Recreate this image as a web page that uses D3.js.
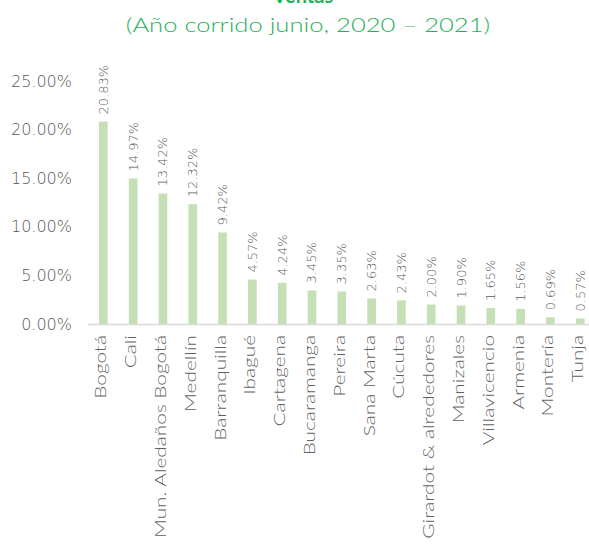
<!DOCTYPE html>
<html>
<head>
<meta charset="utf-8">
<script src="https://cdn.jsdelivr.net/npm/d3@7"></script>
<style>
  body { margin: 0; background: #fff; }
  svg { display: block; font-family: 'DejaVu Sans', sans-serif; }
  .wide { font-family: 'Lato', sans-serif; }
</style>
</head>
<body>
<svg id="chart" width="589" height="545"></svg>
<script>
// categories and shares
const cities = ['Bogotá', 'Cali', 'Mun. Aledaños Bogotá', 'Medellín', 'Barranquilla', 'Ibagué',
  'Cartagena', 'Bucaramanga', 'Pereira', 'Sana Marta', 'Cúcuta', 'Girardot & alrededores',
  'Manizales', 'Villavicencio', 'Armenia', 'Montería', 'Tunja'];
const shares = [20.83, 14.97, 13.42, 12.32, 9.42, 4.57, 4.24, 3.45, 3.35, 2.63, 2.43, 2.00,
  1.90, 1.65, 1.56, 0.69, 0.57];
const yTicks = [0, 5, 10, 15, 20, 25];

const svg = d3.select('#chart');
const green = '#1fb25a';
const grey = '#595959';

// title (first line is cut at the top in the original)
svg.append('text')
  .attr('class', 'wide')
  .attr('x', 303).attr('y', 3)
  .attr('text-anchor', 'middle')
  .attr('font-size', 20).attr('font-weight', 'bold')
  .attr('fill', green)
  .text('Ventas');
svg.append('text')
  .attr('class', 'wide')
  .attr('transform', 'translate(308,32) scale(1.28,1)')
  .attr('text-anchor', 'middle')
  .attr('font-size', 20).attr('font-weight', 300)
  .attr('fill', green)
  .text('(Año corrido junio,  2020 – 2021)');

const x = d3.scaleBand().domain(cities).range([88.6, 595])
  .paddingInner(0.71).paddingOuter(0.35);
const y = d3.scaleLinear().domain([0, 25]).range([324, 81]);

// y axis labels (no line, no ticks)
svg.append('g')
  .selectAll('text')
  .data(yTicks)
  .join('text')
  .attr('x', 72)
  .attr('y', d => y(d))
  .attr('dy', '0.35em')
  .attr('text-anchor', 'end')
  .attr('font-size', 16).attr('font-weight', 200)
  .attr('fill', grey)
  .text(d => d.toFixed(2) + '%');

// bars
svg.append('g')
  .selectAll('rect')
  .data(shares)
  .join('rect')
  .attr('x', (d, i) => x(cities[i]))
  .attr('y', d => y(d))
  .attr('width', x.bandwidth())
  .attr('height', d => y(0) - y(d))
  .attr('fill', '#c5e0b4');

// baseline
svg.append('line')
  .attr('x1', 88).attr('x2', 589)
  .attr('y1', y(0) + 0.5).attr('y2', y(0) + 0.5)
  .attr('stroke', '#d9d9d9').attr('stroke-width', 1.5);

// value labels
svg.append('g')
  .selectAll('text')
  .data(shares)
  .join('text')
  .attr('transform', (d, i) =>
    `translate(${x(cities[i]) + x.bandwidth() / 2 + 4.5},${y(d) - 7}) rotate(-90)`)
  .attr('font-size', 13).attr('font-weight', 200)
  .attr('fill', grey)
  .text(d => d.toFixed(2) + '%');

// category labels
svg.append('g')
  .selectAll('text')
  .data(cities)
  .join('text')
  .attr('class', 'wide')
  .attr('transform', d =>
    `translate(${x(d) + x.bandwidth() / 2 + 3},${335}) rotate(-90) scale(1.3,1)`)
  .attr('text-anchor', 'end')
  .attr('font-size', 16).attr('font-weight', 300)
  .attr('fill', '#5f5f5f')
  .text(d => d);
</script>
</body>
</html>
